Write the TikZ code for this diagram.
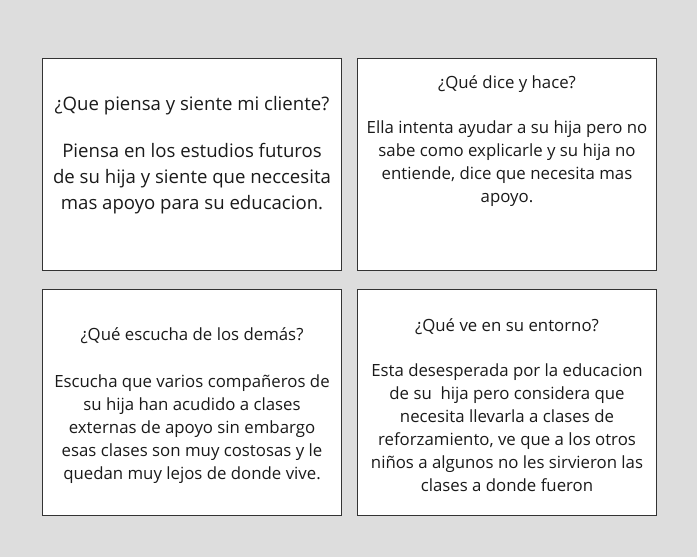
\documentclass[tikz,border=0pt]{standalone}
\usepackage{fontspec}
\setmainfont{Open Sans}
\usetikzlibrary{positioning}
\definecolor{pagegray}{HTML}{DDDDDD}
\definecolor{cardline}{HTML}{333333}
\definecolor{cardink}{HTML}{1A1A1A}
\tikzset{
  card/.style={draw=cardline, fill=white, line width=1pt, minimum width=299pt, inner sep=0pt, outer sep=0pt},
  cardtext/.style={align=center, inner sep=0pt, anchor=north, text=cardink},
  bigtext/.style={font=\fontsize{18.6}{26}\selectfont},
  smalltext/.style={font=\fontsize{16.8}{23}\selectfont}
}
\begin{document}
\begin{tikzpicture}[x=1pt,y=-1pt]
    \fill[pagegray] (0,0) rectangle (697,557);
    \useasboundingbox (0,0) rectangle (697,557);

    \node[card, minimum height=211.5pt, anchor=north west] (thinkbox) at (42.5,58.5) {};
    \node[card, minimum height=211.5pt, right=16pt of thinkbox] (saybox) {};
    \node[card, minimum height=225.5pt, below=19.5pt of thinkbox] (hearbox) {};
    \node[card, minimum height=225.5pt, right=16pt of hearbox] (seebox) {};

    \node[cardtext, bigtext, below=37.4pt of thinkbox.north] (thinktext)
        {¿Que piensa y siente mi cliente?\\[21pt]Piensa en los estudios futuros\\de su hija y siente que neccesita\\mas apoyo para su educacion.};
    \node[cardtext, smalltext, below=17pt of saybox.north] (saytext)
        {¿Qué dice y hace?\\[22pt]Ella intenta ayudar a su hija pero no\\sabe como explicarle y su hija no\\entiende, dice que necesita mas\\apoyo.};
    \node[cardtext, smalltext, below=38pt of hearbox.north] (heartext)
        {¿Qué escucha de los demás?\\[23.5pt]Escucha que varios compañeros de\\su hija han acudido a clases\\externas de apoyo sin embargo\\esas clases son muy costosas y le\\quedan muy lejos de donde vive.};
    \node[cardtext, smalltext, below=29pt of seebox.north] (seetext)
        {¿Qué ve en su entorno?\\[22pt]Esta desesperada por la educacion\\de su\ \ hija pero considera que\\necesita llevarla a clases de\\reforzamiento, ve que a los otros\\niños a algunos no les sirvieron las\\clases a donde fueron};
\end{tikzpicture}
\end{document}
